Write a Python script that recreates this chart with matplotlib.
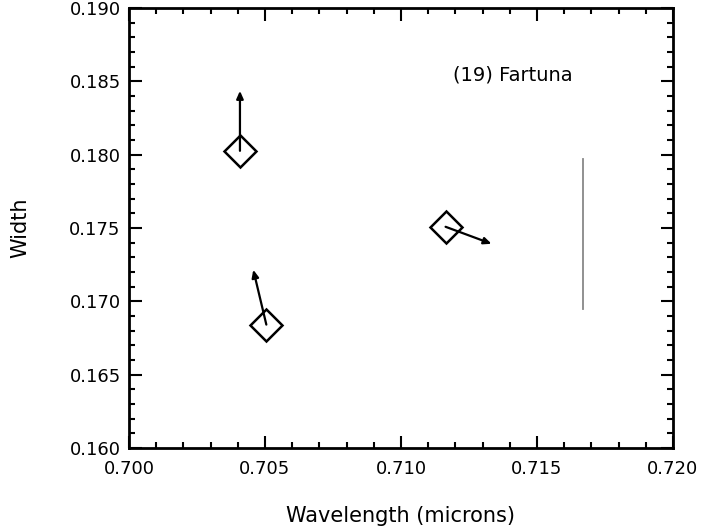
import numpy as np
import matplotlib.pyplot as plt
from matplotlib.ticker import MultipleLocator

# diamond positions (wavelength, width) and arrow tips
wave = [0.70408, 0.70505, 0.71164]
width = [0.18026, 0.16841, 0.17508]
tip_wave = [0.70408, 0.70457, 0.71333]
tip_width = [0.18435, 0.17215, 0.17392]

# gray error bar
bar_x = 0.71671
bar_y = [0.16950, 0.17971]

label = "(19) Fartuna"

fig = plt.figure(figsize=(7.01, 5.32), dpi=100)
ax = fig.add_axes([0.184, 0.158, 0.776, 0.827])

ax.plot(wave, width, linestyle='none', marker='D', markersize=16,
        markerfacecolor='none', markeredgecolor='black', markeredgewidth=1.8)

for x0, y0, x1, y1 in zip(wave, width, tip_wave, tip_width):
    ax.annotate('', xy=(x1, y1), xytext=(x0, y0),
                arrowprops=dict(arrowstyle='-|>,head_length=0.45,head_width=0.2',
                                color='black', lw=1.6, shrinkA=0, shrinkB=0))

ax.plot([bar_x, bar_x], bar_y, color='#888888', lw=1.3)

ax.text(0.71193, 0.18544, label, fontsize=14, va='center', ha='left')

ax.set_xlim(0.700, 0.720)
ax.set_ylim(0.160, 0.190)
ax.xaxis.set_major_locator(MultipleLocator(0.005))
ax.xaxis.set_minor_locator(MultipleLocator(0.001))
ax.yaxis.set_major_locator(MultipleLocator(0.005))
ax.yaxis.set_minor_locator(MultipleLocator(0.001))
ax.xaxis.set_major_formatter(plt.FormatStrFormatter('%.3f'))
ax.yaxis.set_major_formatter(plt.FormatStrFormatter('%.3f'))

ax.tick_params(which='both', direction='in', top=True, right=True, width=1.5)
ax.tick_params(which='major', length=9, labelsize=13)
ax.tick_params(axis='x', which='major', pad=9)
ax.tick_params(axis='y', which='major', pad=6)
ax.tick_params(which='minor', length=4.5)
for s in ax.spines.values():
    s.set_linewidth(2)

ax.set_xlabel('Wavelength (microns)', fontsize=15, labelpad=20)
ax.set_ylabel('Width', fontsize=15, labelpad=28)

fig.savefig('out.png', dpi=100)
